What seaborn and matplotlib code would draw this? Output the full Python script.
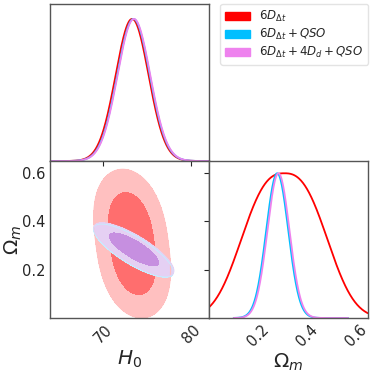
import numpy as np
import seaborn as sns
import matplotlib
matplotlib.use("Agg")
import matplotlib.pyplot as plt
from matplotlib.patches import Patch

# posterior summaries (one entry per chain)
labels = [r'$6D_{\Delta t}$', r'$6D_{\Delta t}+QSO$', r'$6D_{\Delta t}+4D_d+QSO$']
line_colors = ['red', '#00bfff', 'violet']
fill_colors = [['#ffc0c0', '#ff6e6e'], ['#c6ecff', '#7fd4ff'], ['#e5d0f3', '#c68fe0']]
h0_mean = [73.3, 73.45, 73.5]
h0_cond_sigma = [1.8, 1.1, 1.1]
h0_om_slope = [-3.5, -33.0, -33.0]
om_mean = [0.308, 0.279, 0.284]
om_scale = [0.213, 0.0636, 0.0636]
om_power = [2.6, 2.0, 2.0]
om_range = [(0.0, 0.65), (0.10, 0.57), (0.10, 0.57)]

h0_lim = (64, 82)
om_lim = (0.0, 0.65)
h0_ticks = [70, 80]
om_ticks = [0.2, 0.4, 0.6]


def density(i, H, O):
    """Density of chain i evaluated on the grid."""
    cond = h0_mean[i] + h0_om_slope[i] * (O - om_mean[i])
    lp = -0.5 * ((H - cond) / h0_cond_sigma[i]) ** 2
    lp -= np.abs((O - om_mean[i]) / om_scale[i]) ** om_power[i]
    return np.exp(lp)


def mass_levels(z, fracs=(0.95, 0.68)):
    """Density thresholds enclosing the given probability mass."""
    flat = np.sort(z.ravel())[::-1]
    cum = np.cumsum(flat) / flat.sum()
    return [flat[np.searchsorted(cum, f)] for f in fracs]


def main():
    sns.set_style("white")
    plt.rcParams['font.family'] = ['DejaVu Sans']
    plt.rcParams['mathtext.fontset'] = 'dejavusans'

    fig = plt.figure(figsize=(3.74, 3.76), dpi=100)
    w, h = 0.4251, 0.4176
    ax_h = fig.add_axes([0.1337, 0.5718, w, h])
    ax_2d = fig.add_axes([0.1337, 0.1543, w, h])
    ax_o = fig.add_axes([0.5588, 0.1543, w, h])

    hh = np.linspace(h0_lim[0], h0_lim[1], 400)
    oo = np.linspace(om_lim[0], om_lim[1], 400)
    H, O = np.meshgrid(hh, oo)

    for i in range(3):
        z = density(i, H, O)
        z[(O < om_range[i][0]) | (O > om_range[i][1])] = 0

        # 1D marginals, peak normalised to one
        ph = z.sum(axis=0)
        po = z.sum(axis=1)
        mask = (oo >= om_range[i][0]) & (oo <= om_range[i][1])
        sns.lineplot(x=hh, y=ph / ph.max(), ax=ax_h, color=line_colors[i], lw=1.3)
        sns.lineplot(x=oo[mask], y=po[mask] / po.max(), ax=ax_o, color=line_colors[i], lw=1.3)

        # 2D filled contours
        lv = mass_levels(z)
        ax_2d.contourf(H, O, z, levels=[lv[0], lv[1], z.max() * 1.01],
                       colors=fill_colors[i])
        ax_2d.contour(H, O, z, levels=[lv[0]], colors=[fill_colors[i][0]],
                      linewidths=0.8)

    ax_h.set_xlim(h0_lim)
    ax_h.set_ylim(0, 1.105)
    ax_h.set_xticks(h0_ticks)
    ax_h.set_xticklabels([])
    ax_h.set_yticks([])

    ax_2d.set_xlim(h0_lim)
    ax_2d.set_ylim(om_lim)
    ax_2d.set_xticks(h0_ticks)
    ax_2d.set_yticks(om_ticks)
    ax_2d.set_xticklabels([str(t) for t in h0_ticks], rotation=45)
    ax_2d.set_yticklabels([str(t) for t in om_ticks])
    ax_2d.tick_params(direction='in', top=True, right=True)
    ax_2d.set_xlabel(r'$H_0$', fontsize=14.5, labelpad=2)
    ax_2d.set_ylabel(r'$\Omega_m$', fontsize=14.5)
    ax_2d.yaxis.set_label_coords(-0.165, 0.5)

    ax_o.set_xlim(om_lim)
    ax_o.set_ylim(0, 1.085)
    ax_o.set_xticks(om_ticks)
    ax_o.set_xticklabels([str(t) for t in om_ticks], rotation=45)
    ax_o.set_yticks([])
    ax_o.set_xlabel(r'$\Omega_m$', fontsize=14.5, labelpad=2)

    for ax in (ax_h, ax_2d, ax_o):
        ax.tick_params(axis='both', direction='in', labelsize=10.5, length=3.5,
                       pad=3)
        for s in ax.spines.values():
            s.set_color('#555555')
            s.set_linewidth(1.0)

    handles = [Patch(color=c) for c in line_colors]
    fig.legend(handles, labels, loc='upper right', bbox_to_anchor=(0.984, 0.989),
               borderaxespad=0, fontsize=8.5, handlelength=2.1, labelspacing=0.25,
               frameon=True, edgecolor='#dddddd')

    fig.savefig('out.png', dpi=100)


if __name__ == "__main__":
    main()
